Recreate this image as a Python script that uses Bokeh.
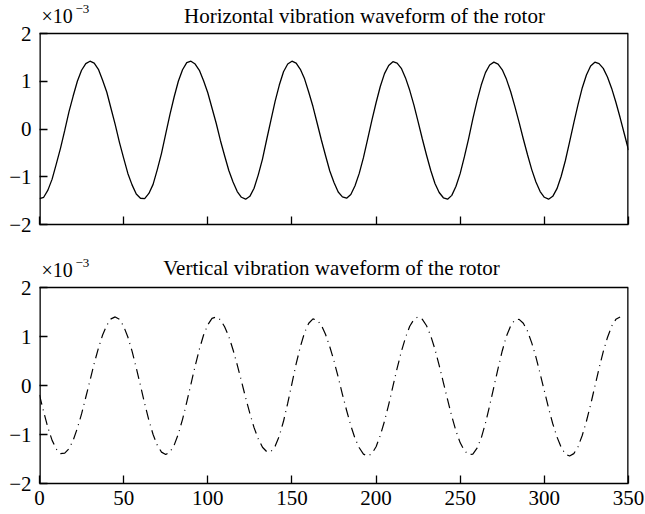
from bokeh.plotting import figure
from bokeh.layouts import column
from bokeh.models import Range1d, FixedTicker
from bokeh.core.properties import value
from bokeh.embed import file_html
from bokeh.resources import INLINE

# ---------------- data ----------------
t_h = [0, 2.5, 5, 7.5, 10, 12.5, 15, 17.5, 20, 22.5,
       25, 27.5, 30, 32.5, 35, 37.5, 40, 42.5, 45, 47.5,
       50, 52.5, 55, 57.5, 60, 62.5, 65, 67.5, 70, 72.5,
       75, 77.5, 80, 82.5, 85, 87.5, 90, 92.5, 95, 97.5,
       100, 102.5, 105, 107.5, 110, 112.5, 115, 117.5, 120, 122.5,
       125, 127.5, 130, 132.5, 135, 137.5, 140, 142.5, 145, 147.5,
       150, 152.5, 155, 157.5, 160, 162.5, 165, 167.5, 170, 172.5,
       175, 177.5, 180, 182.5, 185, 187.5, 190, 192.5, 195, 197.5,
       200, 202.5, 205, 207.5, 210, 212.5, 215, 217.5, 220, 222.5,
       225, 227.5, 230, 232.5, 235, 237.5, 240, 242.5, 245, 247.5,
       250, 252.5, 255, 257.5, 260, 262.5, 265, 267.5, 270, 272.5,
       275, 277.5, 280, 282.5, 285, 287.5, 290, 292.5, 295, 297.5,
       300, 302.5, 305, 307.5, 310, 312.5, 315, 317.5, 320, 322.5,
       325, 327.5, 330, 332.5, 335, 337.5, 340, 342.5, 345, 347.5,
       350]
horiz = [-1.46, -1.43, -1.28, -1.05, -0.73, -0.40, -0.03, 0.36, 0.69, 1.00,
         1.23, 1.37, 1.42, 1.38, 1.25, 1.02, 0.77, 0.43, 0.09, -0.28,
         -0.61, -0.93, -1.17, -1.36, -1.45, -1.46, -1.35, -1.16, -0.85, -0.51,
         -0.10, 0.30, 0.67, 1.00, 1.24, 1.39, 1.42, 1.36, 1.23, 1.01,
         0.76, 0.44, 0.12, -0.24, -0.56, -0.87, -1.11, -1.31, -1.43, -1.47,
         -1.41, -1.24, -0.96, -0.63, -0.22, 0.18, 0.58, 0.92, 1.20, 1.36,
         1.42, 1.38, 1.25, 1.05, 0.77, 0.47, 0.12, -0.23, -0.56, -0.88,
         -1.12, -1.32, -1.42, -1.45, -1.37, -1.19, -0.93, -0.60, -0.21, 0.18,
         0.55, 0.89, 1.16, 1.33, 1.41, 1.38, 1.27, 1.07, 0.81, 0.50,
         0.15, -0.21, -0.55, -0.87, -1.14, -1.33, -1.44, -1.47, -1.39, -1.20,
         -0.93, -0.58, -0.20, 0.21, 0.59, 0.92, 1.18, 1.34, 1.40, 1.36,
         1.24, 1.04, 0.78, 0.47, 0.14, -0.21, -0.54, -0.85, -1.11, -1.31,
         -1.43, -1.47, -1.41, -1.25, -0.99, -0.66, -0.27, 0.13, 0.51, 0.86,
         1.13, 1.32, 1.40, 1.37, 1.27, 1.09, 0.85, 0.56, 0.24, -0.10,
         -0.44]

t_v = [0, 2.5, 5, 7.5, 10, 12.5, 15, 17.5, 20, 22.5,
       25, 27.5, 30, 32.5, 35, 37.5, 40, 42.5, 45, 47.5,
       50, 52.5, 55, 57.5, 60, 62.5, 65, 67.5, 70, 72.5,
       75, 77.5, 80, 82.5, 85, 87.5, 90, 92.5, 95, 97.5,
       100, 102.5, 105, 107.5, 110, 112.5, 115, 117.5, 120, 122.5,
       125, 127.5, 130, 132.5, 135, 137.5, 140, 142.5, 145, 147.5,
       150, 152.5, 155, 157.5, 160, 162.5, 165, 167.5, 170, 172.5,
       175, 177.5, 180, 182.5, 185, 187.5, 190, 192.5, 195, 197.5,
       200, 202.5, 205, 207.5, 210, 212.5, 215, 217.5, 220, 222.5,
       225, 227.5, 230, 232.5, 235, 237.5, 240, 242.5, 245, 247.5,
       250, 252.5, 255, 257.5, 260, 262.5, 265, 267.5, 270, 272.5,
       275, 277.5, 280, 282.5, 285, 287.5, 290, 292.5, 295, 297.5,
       300, 302.5, 305, 307.5, 310, 312.5, 315, 317.5, 320, 322.5,
       325, 327.5, 330, 332.5, 335, 337.5, 340, 342.5, 345]
vert = [-0.19, -0.54, -0.86, -1.12, -1.30, -1.39, -1.38, -1.29, -1.12, -0.87,
        -0.58, -0.24, 0.10, 0.45, 0.76, 1.03, 1.23, 1.36, 1.40, 1.35,
        1.21, 0.99, 0.70, 0.36, 0.00, -0.37, -0.71, -1.00, -1.22, -1.36,
        -1.41, -1.36, -1.22, -0.99, -0.69, -0.34, 0.03, 0.40, 0.74, 1.03,
        1.24, 1.37, 1.40, 1.34, 1.20, 1.00, 0.73, 0.42, 0.09, -0.25,
        -0.57, -0.86, -1.09, -1.26, -1.35, -1.35, -1.24, -1.03, -0.73, -0.36,
        0.04, 0.44, 0.79, 1.08, 1.27, 1.36, 1.33, 1.23, 1.04, 0.79,
        0.50, 0.17, -0.18, -0.51, -0.82, -1.08, -1.27, -1.40, -1.44, -1.39,
        -1.25, -1.02, -0.73, -0.39, -0.02, 0.35, 0.69, 0.98, 1.21, 1.35,
        1.40, 1.35, 1.22, 1.01, 0.74, 0.41, 0.06, -0.29, -0.63, -0.93,
        -1.17, -1.33, -1.41, -1.40, -1.28, -1.07, -0.77, -0.41, -0.03, 0.35,
        0.71, 1.01, 1.22, 1.34, 1.35, 1.27, 1.11, 0.87, 0.58, 0.24,
        -0.11, -0.46, -0.78, -1.05, -1.26, -1.40, -1.44, -1.39, -1.25, -1.02,
        -0.73, -0.39, -0.02, 0.35, 0.69, 0.98, 1.21, 1.35, 1.40]

x_ticks = [0, 50, 100, 150, 200, 250, 300, 350]
y_ticks = [-2, -1, 0, 1, 2]
y_tick_labels = {-2: "\u22122", -1: "\u22121", 0: "0", 1: "1", 2: "2"}
title_h = "Horizontal vibration waveform of the rotor"
title_v = "Vertical vibration waveform of the rotor"
scale_text = "\u00d710"
scale_exp = "\u22123"

FONT = "Liberation Serif"
W = 645
X0, X1 = x_ticks[0], x_ticks[-1]
Y0, Y1 = y_ticks[0], y_ticks[-1]


def make_fig(height, header_px, bottom, box_px, show_xlabels):
    # the frame runs from the canvas top to the bottom axis; the header strip
    # above the data box (y > Y1) holds the title texts
    top_val = Y1 + header_px * (Y1 - Y0) / box_px
    p = figure(width=W, height=height,
               x_range=Range1d(X0, X1), y_range=Range1d(Y0, top_val),
               output_backend="svg", toolbar_location=None,
               min_border_left=39, min_border_right=17,
               min_border_top=0, min_border_bottom=bottom)
    p.grid.visible = False
    p.outline_line_color = None
    p.background_fill_color = "white"
    p.border_fill_color = "white"
    for ax in (p.xaxis[0], p.yaxis[0]):
        ax.axis_line_color = "black"
        ax.axis_line_width = 1.3
        ax.major_tick_in = 8
        ax.major_tick_out = 0
        ax.major_tick_line_color = "black"
        ax.major_tick_line_width = 1.3
        ax.minor_tick_line_color = None
        ax.major_label_text_font = FONT
        ax.major_label_text_font_size = "21px"
        ax.major_label_text_color = "black"
    p.yaxis.axis_line_color = None
    p.xaxis.ticker = FixedTicker(ticks=x_ticks)
    p.yaxis.ticker = FixedTicker(ticks=y_ticks)
    p.yaxis.major_label_overrides = y_tick_labels
    p.yaxis.major_label_standoff = 8
    p.xaxis.major_label_standoff = 7
    if not show_xlabels:
        p.xaxis.major_label_text_color = None
        p.xaxis.major_label_text_font_size = "1px"
        p.xaxis.major_label_standoff = 0
    # box: left/right edges sit on the frame edges (half clipped), top edge inside
    p.segment(x0=[X0, X1], y0=[Y0, Y0], x1=[X0, X1], y1=[Y1, Y1],
              line_color="black", line_width=2.6)
    p.segment(x0=[X0], y0=[Y1], x1=[X1], y1=[Y1], line_color="black", line_width=1.3)
    return p


def add_header(p, title, title_x, title_y, scale_x, scale_y, exp_x, exp_y):
    p.text(x=[title_x], y=[title_y], text=[title], text_font=value(FONT),
           text_font_size="21px", text_align="center", text_baseline="alphabetic",
           text_color="black")
    p.text(x=[scale_x], y=[scale_y], text=[scale_text], text_font=value(FONT),
           text_font_size="20px", text_align="left", text_baseline="alphabetic",
           text_color="black")
    p.text(x=[exp_x], y=[exp_y], text=[scale_exp], text_font=value(FONT),
           text_font_size="13px", text_align="left", text_baseline="alphabetic",
           text_color="black")


# top panel: canvas 0..254, data box 33..224
p1 = make_fig(254, 33, 30, 191, False)
p1.line(t_h, horiz, line_color="black", line_width=1.3)
add_header(p1, title_h, 193.1, 2.362, 1.2, 2.362, 21.4, 2.503)

# bottom panel: canvas 254..514, data box 287..483
p2 = make_fig(260, 33, 31, 196, True)
p2.line(t_v, vert, line_color="black", line_width=1.2, line_dash="10 5 1 5")
add_header(p2, title_v, 173.5, 2.402, 1.2, 2.367, 21.4, 2.510)

layout = column(p1, p2, spacing=0)
open("out.html", "w").write(file_html(layout, INLINE))
